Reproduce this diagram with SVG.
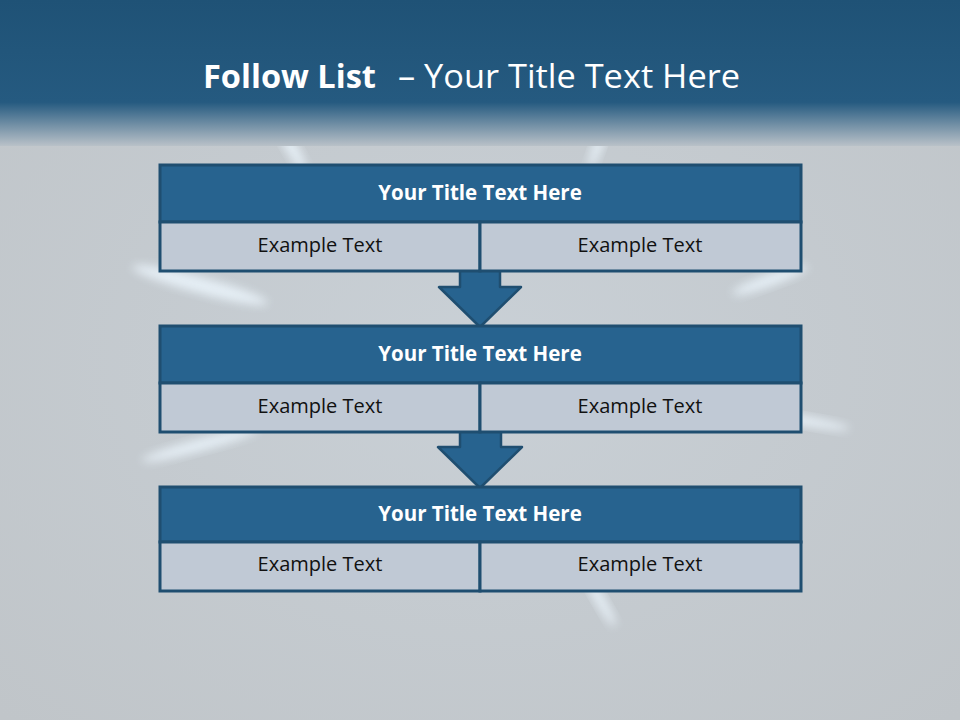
<svg xmlns="http://www.w3.org/2000/svg" width="960" height="720" viewBox="0 0 960 720">
<defs>
<linearGradient id="hdr" x1="0" y1="0" x2="0" y2="1">
<stop offset="0" stop-color="#1f5276"/>
<stop offset="0.7" stop-color="#255a80"/>
<stop offset="1" stop-color="#b9c1c8"/>
</linearGradient>
<radialGradient id="bg" cx="0.5" cy="0.5" r="0.7">
<stop offset="0" stop-color="#c9d0d6"/>
<stop offset="1" stop-color="#c0c5c9"/>
</radialGradient>
<filter id="blur" x="-50%" y="-50%" width="200%" height="200%"><feGaussianBlur stdDeviation="5"/></filter>
<style>
.ttl{fill:#27638f;stroke:#1f4e70;stroke-width:3}
.cell{fill:#c0c9d5;stroke:#1f4e70;stroke-width:3}
.arr{fill:#27638f;stroke:#1f4e70;stroke-width:2.5;stroke-linejoin:round}
.ht{font-family:"Open Sans","Liberation Sans",sans-serif;font-weight:bold;font-size:20.5px;fill:#ffffff;text-anchor:middle}
.ct{font-family:"Open Sans","Liberation Sans",sans-serif;font-size:20px;fill:#111111;text-anchor:middle}
.mt{font-family:"Open Sans","Liberation Sans",sans-serif;font-size:33px;fill:#ffffff}
.streak{fill:#eef8ff;filter:url(#blur);opacity:0.8}
</style>
</defs>
<rect x="0" y="0" width="960" height="720" fill="url(#bg)"/>
<g id="burst">
<ellipse class="streak" cx="200" cy="285" rx="70" ry="8" transform="rotate(15 200 285)"/>
<ellipse class="streak" cx="200" cy="445" rx="60" ry="6" transform="rotate(-15 200 445)"/>
<ellipse class="streak" cx="770" cy="280" rx="40" ry="6" transform="rotate(-20 770 280)"/>
<ellipse class="streak" cx="800" cy="420" rx="50" ry="5" transform="rotate(10 800 420)"/>
<ellipse class="streak" cx="600" cy="600" rx="30" ry="5" transform="rotate(60 600 600)"/>
<ellipse class="streak" cx="290" cy="145" rx="30" ry="6" transform="rotate(60 290 145)"/>
<ellipse class="streak" cx="600" cy="140" rx="30" ry="5" transform="rotate(-70 600 140)"/>
</g>
<rect x="0" y="0" width="960" height="146" fill="url(#hdr)"/>
<text class="mt" x="203" y="88" font-weight="bold" textLength="173" lengthAdjust="spacingAndGlyphs">Follow List</text>
<text class="mt" x="398" y="88" textLength="342" lengthAdjust="spacingAndGlyphs">– Your Title Text Here</text>
<g id="connectors">
<path class="arr" d="M460 270 L500 270 L500 287 L521 287 L480 327 L439 287 L460 287 Z"/>
<path class="arr" d="M460 431 L501 431 L501 447 L522 447 L480 488 L438 447 L460 447 Z"/>
</g>
<g id="node1">
<rect class="ttl" x="160" y="165" width="641" height="57"/>
<rect class="cell" x="160" y="222" width="320" height="49"/>
<rect class="cell" x="480" y="222" width="321" height="49"/>
<text class="ht" x="480" y="200">Your Title Text Here</text>
<text class="ct" x="320" y="252">Example Text</text>
<text class="ct" x="640" y="252">Example Text</text>
</g>
<g id="node2">
<rect class="ttl" x="160" y="326" width="641" height="57"/>
<rect class="cell" x="160" y="383" width="320" height="49"/>
<rect class="cell" x="480" y="383" width="321" height="49"/>
<text class="ht" x="480" y="361">Your Title Text Here</text>
<text class="ct" x="320" y="413">Example Text</text>
<text class="ct" x="640" y="413">Example Text</text>
</g>
<g id="node3">
<rect class="ttl" x="160" y="487" width="641" height="55"/>
<rect class="cell" x="160" y="542" width="320" height="49"/>
<rect class="cell" x="480" y="542" width="321" height="49"/>
<text class="ht" x="480" y="521">Your Title Text Here</text>
<text class="ct" x="320" y="571">Example Text</text>
<text class="ct" x="640" y="571">Example Text</text>
</g>
</svg>
